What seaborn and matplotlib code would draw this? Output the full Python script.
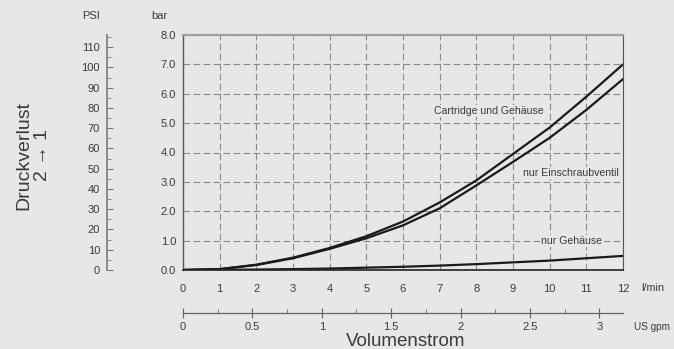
import matplotlib
matplotlib.use("Agg")
import matplotlib.pyplot as plt
import seaborn as sns
import numpy as np
from matplotlib.ticker import MultipleLocator, FormatStrFormatter, FixedLocator

# flow in l/min
flow = [0, 1, 2, 3, 4, 5, 6, 7, 8, 9, 10, 11, 12]
# pressure loss in bar
cartridge = [0, 0.03, 0.18, 0.42, 0.75, 1.15, 1.65, 2.30, 3.05, 3.95, 4.85, 5.90, 7.00]
ventil = [0, 0.03, 0.17, 0.40, 0.72, 1.08, 1.52, 2.10, 2.88, 3.68, 4.50, 5.45, 6.50]
gehaeuse = [0, 0.005, 0.015, 0.03, 0.05, 0.08, 0.11, 0.15, 0.20, 0.26, 0.32, 0.40, 0.48]

labels = ["Cartridge und Gehäuse", "nur Einschraubventil", "nur Gehäuse"]
label_pos = [(8.33, 5.41), (10.57, 3.30), (10.6, 0.99)]

gpm_ticks = [0, 0.5, 1, 1.5, 2, 2.5, 3]
gpm_minor = [0.25, 0.75, 1.25, 1.75, 2.25, 2.75]

BAR_TO_PSI = 14.5038
GPM_TO_LPM = 3.78541

bg = '#e7e7e8'
txt = '#3a3a3a'

sns.set_style("white")
plt.rcParams['font.family'] = ['Liberation Sans', 'DejaVu Sans']

fig = plt.figure(figsize=(6.74, 3.49), dpi=100, facecolor=bg)
ax = fig.add_axes([183/674, 79/349, 440/674, 235/349])
ax.set_facecolor(bg)

for vals in [cartridge, ventil, gehaeuse]:
    sns.lineplot(x=flow, y=vals, ax=ax, color='#1a1a1a', linewidth=1.6)

for lab, (lx, ly) in zip(labels, label_pos):
    ax.text(lx, ly, lab, ha='center', va='center', fontsize=7.6, color=txt,
            bbox=dict(facecolor=bg, edgecolor='none', pad=1.0), zorder=5)

ax.set_xlim(0, 12)
ax.set_ylim(0, 8)
ax.xaxis.set_major_locator(MultipleLocator(1))
ax.xaxis.set_minor_locator(MultipleLocator(0.5))
ax.yaxis.set_major_locator(MultipleLocator(1))
ax.yaxis.set_minor_locator(MultipleLocator(0.5))
ax.yaxis.set_major_formatter(FormatStrFormatter('%.1f'))
ax.tick_params(which='both', direction='in', colors='#555555', labelcolor=txt, labelsize=8)
ax.tick_params(which='major', length=4)
ax.tick_params(which='minor', length=3)
ax.tick_params(axis='x', pad=10)
ax.tick_params(axis='y', pad=5)
ax.grid(True, which='major', color='#8a8a8a', linestyle=(0, (6, 3)), linewidth=0.8)
ax.set_axisbelow(True)

ax.spines['top'].set_color('#a0a0a0')
ax.spines['top'].set_linewidth(1.6)
ax.spines['right'].set_color('#555555')
ax.spines['right'].set_linewidth(0.8)
ax.spines['left'].set_color('#555555')
ax.spines['left'].set_linewidth(1.0)
ax.spines['bottom'].set_color('#222222')
ax.spines['bottom'].set_linewidth(1.2)
ax.set_xlabel('')
ax.set_ylabel('')

# PSI axis
psi = ax.secondary_yaxis(-76/440, functions=(lambda b: b * BAR_TO_PSI, lambda p: p / BAR_TO_PSI))
psi.yaxis.set_major_locator(MultipleLocator(10))
psi.yaxis.set_minor_locator(MultipleLocator(5))
psi.tick_params(which='both', direction='in', colors='#777777', labelcolor=txt, labelsize=8, pad=5)
psi.tick_params(which='major', length=4)
psi.tick_params(which='minor', length=3)
psi.spines['left'].set_color('#8a8a8a')
psi.spines['left'].set_linewidth(1.4)

# US gpm axis
gpm = ax.secondary_xaxis(-43/235, functions=(lambda l: l / GPM_TO_LPM, lambda g: g * GPM_TO_LPM))
gpm.xaxis.set_major_locator(FixedLocator(gpm_ticks))
gpm.xaxis.set_minor_locator(FixedLocator(gpm_minor))
gpm.xaxis.set_major_formatter(plt.FuncFormatter(lambda v, p: ('%g' % v)))
gpm.tick_params(which='major', direction='inout', length=7, colors='#666666', labelcolor=txt, labelsize=8, pad=3)
gpm.tick_params(which='minor', direction='in', length=3, colors='#666666')
gpm.spines['bottom'].set_color('#666666')
gpm.spines['bottom'].set_linewidth(0.9)

fig.text(91/674, 1 - 16/349, 'PSI', ha='center', va='center', fontsize=8, color=txt)
fig.text(159/674, 1 - 16/349, 'bar', ha='center', va='center', fontsize=8, color=txt)
fig.text(641/674, 1 - 288/349, 'l/min', ha='left', va='center', fontsize=7.8, color=txt)
fig.text(634/674, 1 - 327/349, 'US gpm', ha='left', va='center', fontsize=7.2, color=txt)
fig.text(406/674, 1 - 341/349, 'Volumenstrom', ha='center', va='center', fontsize=13.5, color=txt)
fig.text(33/674, 1 - 155/349, 'Druckverlust\n2 → 1', ha='center', va='center', rotation=90,
         fontsize=14, color=txt, multialignment='center', linespacing=1.15)

fig.savefig('out.png', dpi=100, facecolor=bg)
